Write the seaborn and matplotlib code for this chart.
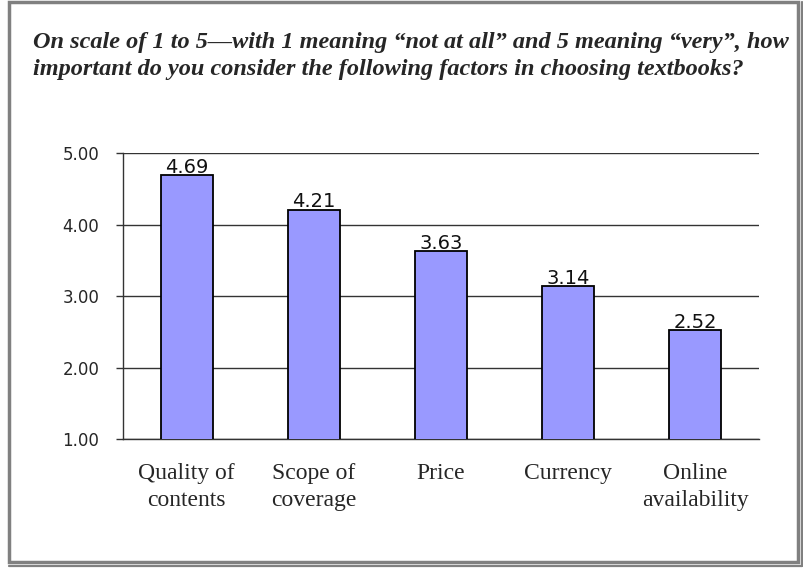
import matplotlib
matplotlib.use("Agg")
import matplotlib.pyplot as plt
import seaborn as sns
import pandas as pd
from matplotlib.patches import Rectangle
from matplotlib.lines import Line2D
from matplotlib.ticker import FixedLocator

categories = ["Quality of\ncontents", "Scope of\ncoverage", "Price", "Currency", "Online\navailability"]
values = [4.69, 4.21, 3.63, 3.14, 2.52]
ytick_values = [1, 2, 3, 4, 5]
ytick_labels = ["1.00", "2.00", "3.00", "4.00", "5.00"]
title = ("On scale of 1 to 5\u2014with 1 meaning \u201cnot at all\u201d and 5 meaning \u201cvery\u201d, how\n"
         "important do you consider the following factors in choosing textbooks?")

sns.set_style("white")
plt.rcParams['font.family'] = ['DejaVu Sans']

df = pd.DataFrame({"factor": categories, "score": values})

fig = plt.figure(figsize=(8.04, 5.71), dpi=100)
ax = fig.add_axes([0.153, 0.231, 0.791, 0.501])

sns.barplot(data=df, x="factor", y="score", ax=ax, color="#9999FF",
            saturation=1, width=0.41, edgecolor="black", linewidth=1.3, zorder=3)

ax.set_ylim(1, 5)
ax.set_xlim(-0.5, len(categories) - 0.5)
ax.set_yticks(ytick_values)
ax.set_yticklabels(ytick_labels, fontsize=12)
ax.yaxis.grid(True, color="#333333", linewidth=1.0, zorder=0)
ax.set_axisbelow(True)

ax.set_xlabel("")
ax.set_ylabel("")
ax.set_xticks(range(len(categories)))
ax.set_xticklabels(categories, fontsize=17, family="Liberation Serif", linespacing=1.4)
ax.tick_params(axis="x", which="major", length=0, pad=17)
ax.xaxis.set_minor_locator(FixedLocator([i - 0.5 for i in range(len(categories) + 1)]))
ax.tick_params(axis="x", which="minor", direction="in", length=5, color="#333333", width=1)
ax.tick_params(axis="y", which="major", direction="out", length=5, color="#333333", width=1, pad=12, left=True)

for s in ["top", "right"]:
    ax.spines[s].set_visible(False)
for s in ["left", "bottom"]:
    ax.spines[s].set_color("#333333")
    ax.spines[s].set_linewidth(1.0)

for i, v in enumerate(values):
    ax.annotate(f"{v:.2f}", (i, v), xytext=(0, 1.5), textcoords="offset points",
                ha="center", va="baseline", fontsize=14, color="#111111", zorder=4)

fig.text(0.041, 0.944, title, ha="left", va="top", fontsize=17.5, family="Liberation Serif",
         fontweight="bold", fontstyle="italic", linespacing=1.36)

# gray frame
W, H = 804.0, 571.0
fig.patches.append(Rectangle((9 / W, 1 - 562 / H), (798 - 9) / W, (562 - 2) / H, transform=fig.transFigure,
                             fill=False, edgecolor="#808080", linewidth=2.5))
fig.lines.append(Line2D([802 / W, 802 / W], [1 - 2 / H, 1 - 566 / H], transform=fig.transFigure,
                        color="#808080", linewidth=1.6))
fig.lines.append(Line2D([9 / W, 802 / W], [1 - 566 / H, 1 - 566 / H], transform=fig.transFigure,
                        color="#808080", linewidth=1.6))

fig.savefig("out.png", dpi=100)
